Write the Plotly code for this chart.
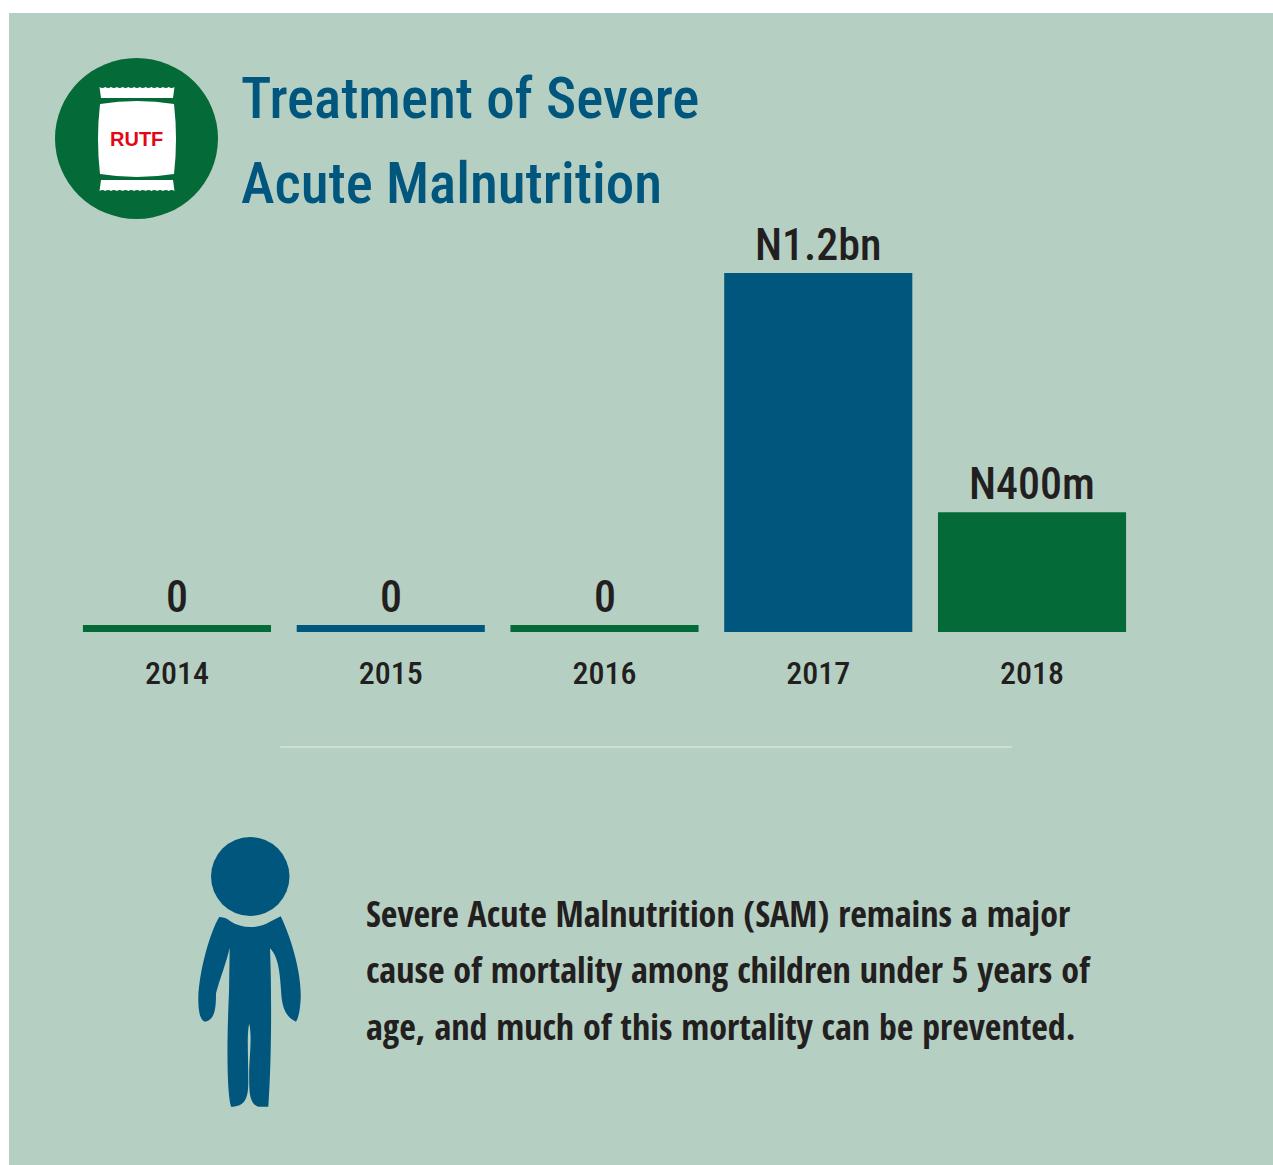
import plotly.graph_objects as go

years = ["2014", "2015", "2016", "2017", "2018"]
spend_naira_m = [0, 0, 0, 1200, 400]
bar_labels = ["0", "0", "0", "N1.2bn", "N400m"]
bar_colors = ["#046a38", "#00567d", "#046a38", "#00567d", "#046a38"]
# zero years are drawn in the source as a thin stub line, not an empty slot
zero_stub = 23
title_lines = ["Treatment of Severe", "Acute Malnutrition"]
body_lines = [
    "Severe Acute Malnutrition (SAM) remains a major",
    "cause of mortality among children under 5 years of",
    "age, and much of this mortality can be prevented.",
]

W, H = 1273, 1165
PANEL = "#b5d0c3"
BLUE = "#00567d"
GREEN = "#046a38"
INK = "#231f20"
FONT = "Roboto Condensed"
BODY_FONT = "Open Sans Condensed"

drawn = [v if v > 0 else zero_stub for v in spend_naira_m]

fig = go.Figure()
# full-canvas helper axes come first so that their shapes sit beneath the bars
fig.add_trace(go.Scatter(x=[0], y=[0], mode="markers",
                         marker=dict(opacity=0), hoverinfo="skip", showlegend=False))
fig.add_trace(go.Bar(
    x=years, y=drawn, xaxis="x2", yaxis="y2", marker=dict(color=bar_colors, line=dict(width=0)),
    hoverinfo="skip", showlegend=False,
))


def z(x, y):
    return f"{180 + x / 3:.1f},{825 + y / 3:.1f}"


body = (
    f"M{z(118,276)} C{z(135,278)} {z(140,280)} {z(150,288)} "
    f"C{z(185,312)} {z(235,312)} {z(270,290)} L{z(302,274)} "
    f"C{z(330,330)} {z(365,440)} {z(362,520)} C{z(360,560)} {z(355,580)} {z(348,590)} "
    f"C{z(325,580)} {z(310,560)} {z(305,520)} C{z(300,460)} {z(300,400)} {z(270,370)} "
    f"C{z(275,500)} {z(275,700)} {z(265,845)} L{z(235,845)} "
    f"C{z(215,840)} {z(208,815)} {z(208,780)} C{z(205,700)} {z(218,650)} {z(208,596)} "
    f"C{z(200,620)} {z(205,700)} {z(205,770)} C{z(205,820)} {z(195,845)} {z(153,845)} "
    f"C{z(140,800)} {z(140,650)} {z(147,500)} L{z(149,368)} "
    f"C{z(140,410)} {z(120,460)} {z(108,505)} C{z(108,550)} {z(105,585)} {z(75,590)} "
    f"C{z(60,585)} {z(55,560)} {z(55,520)} C{z(57,440)} {z(90,320)} {z(118,276)} Z"
)


def strip(y_outer, y_inner, x0=99.5, x1=174.5, inset=1.5, teeth=13):
    step = (x1 - x0) / teeth
    d = f"M{x0 + inset},{y_inner} L{x0},{y_outer} "
    for i in range(teeth):
        xa = x0 + i * step
        sign = 1.8 if y_outer < y_inner else -1.8
        d += f"Q{xa + step / 2},{y_outer + sign} {xa + step},{y_outer} "
    d += f"L{x1 - inset},{y_inner} Z"
    return d


bag = "M100,104 Q137,98 174,104 Q178,139 174,174 Q137,180 100,174 Q96,139 100,104 Z"

shape_common = dict(xref="x", yref="y", layer="below", line=dict(width=0))
shapes = [
    dict(type="rect", x0=9, x1=W, y0=13, y1=H, fillcolor=PANEL, **shape_common),
    dict(type="circle", x0=55, x1=218, y0=58, y1=219, fillcolor=GREEN, **shape_common),
    dict(type="path", path=bag, fillcolor="white", **shape_common),
    dict(type="path", path=strip(87, 98), fillcolor="white", **shape_common),
    dict(type="path", path=strip(191, 180), fillcolor="white", **shape_common),
    dict(type="circle", x0=211, x1=289.5, y0=837, y1=916, fillcolor=BLUE, **shape_common),
    dict(type="path", path=body, fillcolor=BLUE, **shape_common),
    dict(type="line", x0=280, x1=1012, y0=747, y1=747, xref="x", yref="y", layer="below",
         line=dict(color="#e3eee8", width=1)),
]

ann = []
for line, yc in zip(title_lines, [98, 183]):
    ann.append(dict(text=line, x=239, y=yc, xref="x", yref="y", xanchor="left", yanchor="middle",
                    showarrow=False, font=dict(family=FONT, size=57, color=BLUE, weight=500)))
for line, yc in zip(body_lines, [913, 969, 1026]):
    ann.append(dict(text=line, x=364, y=yc, xref="x", yref="y", xanchor="left", yanchor="middle",
                    showarrow=False, font=dict(family=BODY_FONT, size=36, color=INK)))
for i, (val, lab) in enumerate(zip(drawn, bar_labels)):
    ann.append(dict(text=lab, x=i, y=val, xref="x2", yref="y2", xanchor="center", yanchor="bottom",
                    yshift=0, showarrow=False, font=dict(family=FONT, size=44, color=INK, weight=500)))
ann.append(dict(text="<b>RUTF</b>", x=136.5, y=139, xref="x", yref="y", showarrow=False,
                font=dict(family="Liberation Sans", size=20, color="#e30613")))

fig.update_layout(
    width=W, height=H, margin=dict(l=0, r=0, t=0, b=0), autosize=False,
    paper_bgcolor="white", plot_bgcolor="rgba(0,0,0,0)", bargap=0.12, showlegend=False,
    xaxis=dict(domain=[0, 1], range=[0, W], visible=False, fixedrange=True, anchor="y"),
    yaxis=dict(domain=[0, 1], range=[H, 0], visible=False, fixedrange=True, anchor="x"),
    xaxis2=dict(domain=[70.1 / W, 1138.9 / W], type="category", categoryarray=years, range=[-0.5, 4.5],
                showgrid=False, zeroline=False, automargin=False,
                showline=False, ticks="outside", ticklen=13, tickcolor="rgba(0,0,0,0)",
                tickfont=dict(family=FONT, size=32, color=INK, weight=500), anchor="y2", fixedrange=True),
    yaxis2=dict(domain=[(H - 632) / H, (H - 273) / H], range=[0, 1200], visible=False,
                anchor="x2", fixedrange=True),
    shapes=shapes, annotations=ann,
)

fig.write_html("out.html", config={"displayModeBar": False},
               post_script="document.body.style.margin='0';document.body.style.overflow='hidden';")
